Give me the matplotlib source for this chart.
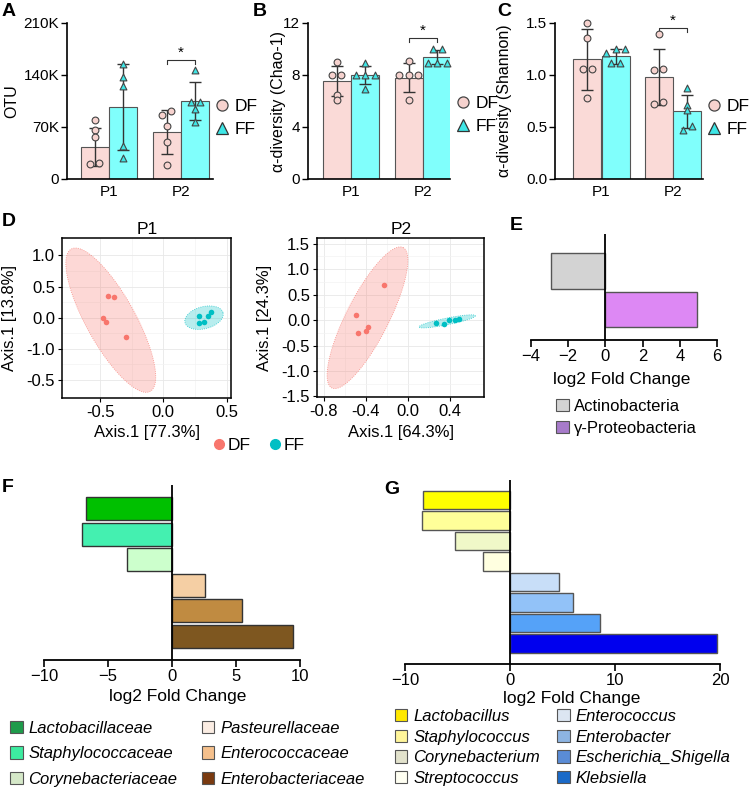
import numpy as np
import matplotlib
matplotlib.use('Agg')
import matplotlib.pyplot as plt
from matplotlib.patches import Patch, Polygon
from matplotlib.lines import Line2D

plt.rcParams['font.family'] = ['Liberation Sans', 'DejaVu Sans']

# ---------------- data ----------------
groups = ['P1', 'P2']

# A: OTU (thousands)
otu_df_pts = [[80, 66, 57, 21, 20], [91, 86, 71, 50, 19]]
otu_ff_pts = [[155, 137, 125, 44, 28], [147, 104, 104, 94, 77]]
otu_df_mean = [43, 63]
otu_df_sd = [25, 30]
otu_ff_mean = [97, 105]
otu_ff_sd = [58, 26]

# B: Chao-1
chao_df_pts = [[9.0, 8.0, 8.0, 6.5, 6.1], [9.05, 8.0, 8.0, 8.0, 6.1]]
chao_ff_pts = [[8.9, 8.0, 8.0, 8.0, 6.9], [10.0, 10.0, 8.9, 8.9, 8.9]]
chao_df_mean = [7.55, 7.8]
chao_df_sd = [1.15, 1.1]
chao_ff_mean = [8.0, 9.4]
chao_ff_sd = [0.68, 0.55]

# C: Shannon
shan_df_pts = [[1.50, 1.36, 1.06, 1.06, 0.78], [1.395, 1.05, 1.06, 0.72, 0.745]]
shan_ff_pts = [[1.25, 1.25, 1.21, 1.12, 1.12], [0.875, 0.714, 0.666, 0.51, 0.47]]
shan_df_mean = [1.15, 0.98]
shan_df_sd = [0.29, 0.27]
shan_ff_mean = [1.18, 0.65]
shan_ff_sd = [0.07, 0.16]

# D: PCoA
p1_df_x = [-0.434, -0.392, -0.474, -0.453, -0.295]
p1_df_y = [0.342, 0.332, 0.0, -0.064, -0.305]
p1_ff_x = [0.279, 0.284, 0.321, 0.355, 0.374]
p1_ff_y = [0.027, -0.080, -0.070, 0.027, 0.086]
p2_df_x = [-0.224, -0.495, -0.476, -0.394, -0.375]
p2_df_y = [0.68, 0.105, -0.25, -0.21, -0.14]
p2_ff_x = [0.271, 0.344, 0.388, 0.445, 0.486]
p2_ff_y = [-0.059, -0.085, -0.007, -0.007, 0.02]
# ellipses: centre, half-axis vector u, half-axis vector v
p1_df_ell = [(-0.415, -0.04), (-0.23, 1.136), (0.27, -0.23)]
p1_ff_ell = [(0.321, 0.0), (0.150, 0.080), (0.022, -0.171)]
p2_df_ell = [(-0.383, 0.045), (0.339, 1.377), (0.18, -0.19)]
p2_ff_ell = [(0.375, -0.026), (0.268, 0.111), (0.0063, -0.064)]

# E
e_taxa = ['Actinobacteria', 'γ-Proteobacteria']
e_fc = [-2.9, 4.95]

# F
f_taxa = ['Lactobacillaceae', 'Staphylococcaceae', 'Corynebacteriaceae',
          'Pasteurellaceae', 'Enterococcaceae', 'Enterobacteriaceae']
f_fc = [-6.7, -7.0, -3.5, 2.6, 5.5, 9.45]

# G
g_taxa = ['Lactobacillus', 'Staphylococcus', 'Corynebacterium', 'Streptococcus',
          'Enterococcus', 'Enterobacter', 'Escherichia_Shigella', 'Klebsiella']
g_fc = [-8.3, -8.4, -5.2, -2.6, 4.7, 6.0, 8.6, 19.7]

# colours
df_bar, ff_bar = '#FADAD7', '#80FFFC'
df_pt, ff_pt = '#F6D2CE', '#3EE6E6'
pc_df, pc_ff = '#F8766D', '#00BFC4'
e_bar_cols = ['#D3D3D3', '#DD88F4']
e_leg_cols = ['#D3D3D3', '#A77BCA']
f_bar_cols = ['#00C000', '#44F0B0', '#CCFFCC', '#F5CFA4', '#C08B41', '#7E5720']
f_leg_cols = ['#1E9B4B', '#3DEBA0', '#D5E8C8', '#FBEDE3', '#F5C08C', '#7A3A10']
g_bar_cols = ['#FFFF00', '#FFFF99', '#F0F8C8', '#FFFFE0', '#C8DEF8', '#92C2F8', '#55A2F8', '#0000EE']
g_leg_cols = ['#FFE800', '#FFF59A', '#E2E2CC', '#FFFFF2', '#DCE6F2', '#8DB4E2', '#5A8CD6', '#1A6AC8']

W, H = 750, 789
fig = plt.figure(figsize=(W / 100, H / 100), dpi=100)


def add_ax(box):
    l, t, r, b = box
    return fig.add_axes([l / W, 1 - b / H, (r - l) / W, (b - t) / H])


def ftext(x, y, s, **kw):
    fig.text(x / W, 1 - y / H, s, **kw)


def xlab(ax, box, text, px, py, **kw):
    l, t, r, b = box
    ax.set_xlabel(text, **kw)
    ax.xaxis.set_label_coords((px - l) / (r - l), (b - py) / (b - t))
    ax.xaxis.label.set_va('center')


def ylab(ax, box, text, px, py, **kw):
    l, t, r, b = box
    ax.set_ylabel(text, **kw)
    ax.yaxis.set_label_coords((px - l) / (r - l), (b - py) / (b - t))
    ax.yaxis.label.set_ha('center')
    ax.yaxis.label.set_va('center')


def spread(vals, tol, step):
    vals = np.asarray(vals, float)
    order = np.argsort(vals)
    offs = np.zeros(len(vals))
    clusters = [[order[0]]]
    for i in order[1:]:
        if vals[i] - vals[clusters[-1][-1]] <= tol:
            clusters[-1].append(i)
        else:
            clusters.append([i])
    for c in clusters:
        k = len(c)
        for j, idx in enumerate(c):
            offs[idx] = (j - (k - 1) / 2) * step
    return offs


def bar_panel(box, xlim, df_pts, ff_pts, df_m, df_s, ff_m, ff_s, ylim, yticks,
              yticklabels, ylabel, ylab_x, sig_y, sig_d, leg_xy):
    ax = add_ax(box)
    w, off = 0.39, 0.2
    span = ylim[1] - ylim[0]
    for gi in range(2):
        for pts, m, s, dx, bc, pc, mk in [
                (df_pts[gi], df_m[gi], df_s[gi], -off, df_bar, df_pt, 'o'),
                (ff_pts[gi], ff_m[gi], ff_s[gi], off, ff_bar, ff_pt, '^')]:
            x = gi + dx
            ax.bar(x, m, width=w, color=bc, edgecolor='#555555', lw=0.8, zorder=1)
            ax.errorbar(x, m, yerr=s, color='#333333', capsize=4.5, lw=1,
                        capthick=1, zorder=2)
            xo = spread(pts, 0.03 * span, 0.13)
            ax.scatter(x + xo, pts, marker=mk, s=24, facecolor=pc,
                       edgecolor='#444444', lw=0.8, zorder=3, clip_on=False)
    x1, x2 = 1 - off, 1 + off
    ax.plot([x1, x1, x2, x2], [sig_y - sig_d, sig_y, sig_y, sig_y - sig_d],
            color='#333333', lw=0.8)
    ax.text((x1 + x2) / 2, sig_y, '*', ha='center', va='bottom', fontsize=11)
    ax.set_xlim(xlim)
    ax.set_ylim(ylim)
    ax.set_yticks(yticks)
    ax.set_yticklabels(yticklabels)
    ax.set_xticks([0, 1])
    ax.set_xticklabels(groups)
    for sp in ['top', 'right']:
        ax.spines[sp].set_visible(False)
    for sp in ['left', 'bottom']:
        ax.spines[sp].set_linewidth(1.2)
    ax.tick_params(axis='y', length=4, width=1, labelsize=11, pad=1.5)
    ax.tick_params(axis='x', length=0, labelsize=11, pad=4)
    ylab(ax, box, ylabel, ylab_x, (box[1] + box[3]) / 2, fontsize=11.5)
    handles = [Line2D([], [], ls='', marker='o', ms=8, mfc=df_pt, mec='#444444', mew=0.9),
               Line2D([], [], ls='', marker='^', ms=8, mfc=ff_pt, mec='#333333', mew=0.9)]
    fig.legend(handles, ['DF', 'FF'], loc='upper left',
               bbox_to_anchor=(leg_xy[0] / W, 1 - leg_xy[1] / H), frameon=False,
               fontsize=12.5, handlelength=0.9, handletextpad=0.3, labelspacing=0.45,
               borderpad=0, borderaxespad=0)
    return ax


# ---------------- A ----------------
otu_ticks = [0, 70, 140, 210]
bar_panel((67, 23, 213, 179), (-0.583, 1.444), otu_df_pts, otu_ff_pts,
          otu_df_mean, otu_df_sd, otu_ff_mean, otu_ff_sd, (0, 210), otu_ticks,
          ['0', '70K', '140K', '210K'], 'OTU', 12, 160, 5, (214, 99))

# ---------------- B ----------------
bar_panel((308, 23, 450, 179), (-0.597, 1.375), chao_df_pts, chao_ff_pts,
          chao_df_mean, chao_df_sd, chao_ff_mean, chao_ff_sd, (0, 12), [0, 4, 8, 12],
          ['0', '4', '8', '12'], 'α-diversity (Chao-1)', 278, 10.85, 0.3, (455, 96))

# ---------------- C ----------------
bar_panel((555, 23, 703, 179), (-0.65, 1.42), shan_df_pts, shan_ff_pts,
          shan_df_mean, shan_df_sd, shan_ff_mean, shan_ff_sd, (0, 1.5),
          [0, 0.5, 1.0, 1.5], ['0.0', '0.5', '1.0', '1.5'],
          'α-diversity (Shannon)', 505, 1.45, 0.04, (706, 99))


# ---------------- D ----------------
def ellipse_pts(ell, n=200):
    (cx, cy), u, v = ell
    t = np.linspace(0, 2 * np.pi, n)
    return np.column_stack([cx + u[0] * np.cos(t) + v[0] * np.sin(t),
                            cy + u[1] * np.cos(t) + v[1] * np.sin(t)])


def pcoa_panel(box, xlim, ylim, xticks, xticklabels, yticks, yticklabels,
               df_xy, ff_xy, df_ell, ff_ell, title, xlabel, ylabel, ylab_x):
    ax = add_ax(box)
    for ell, col in [(df_ell, pc_df), (ff_ell, pc_ff)]:
        ax.add_patch(Polygon(ellipse_pts(ell), closed=True, facecolor=col, alpha=0.28,
                             edgecolor='none', zorder=1))
        ax.add_patch(Polygon(ellipse_pts(ell), closed=True, facecolor='none',
                             edgecolor=col, lw=0.6, ls=':', alpha=0.8, zorder=1))
    ax.scatter(df_xy[0], df_xy[1], s=16, color=pc_df, zorder=3, lw=0)
    ax.scatter(ff_xy[0], ff_xy[1], s=16, color=pc_ff, zorder=3, lw=0)
    ax.set_xlim(xlim)
    ax.set_ylim(ylim)
    ax.set_xticks(xticks)
    ax.set_xticklabels(xticklabels)
    ax.set_yticks(yticks)
    ax.set_yticklabels(yticklabels)
    ax.set_xticks([(a + b) / 2 for a, b in zip(xticks[:-1], xticks[1:])], minor=True)
    ax.set_yticks([(a + b) / 2 for a, b in zip(yticks[:-1], yticks[1:])], minor=True)
    ax.grid(True, which='major', color='#E8E8E8', lw=0.6)
    ax.grid(True, which='minor', color='#F3F3F3', lw=0.5)
    ax.tick_params(which='minor', length=0)
    ax.tick_params(which='major', length=3, width=0.8, labelsize=12, pad=2)
    ax.set_axisbelow(True)
    for sp in ax.spines.values():
        sp.set_linewidth(1.1)
    l, t, r, b = box
    ftext((l + r) / 2 + 1, 229, title, ha='center', va='center', fontsize=12.5)
    xlab(ax, box, xlabel, (l + r) / 2, 433, fontsize=12)
    ylab(ax, box, ylabel, ylab_x, (t + b) / 2, fontsize=12)
    return ax


pcoa_panel((62, 238, 231, 398), (-0.80, 0.534), (-1.29, 1.28),
           [-0.5, 0.0, 0.5], ['-0.5', '0.0', '0.5'],
           [-1.0, -0.5, 0.0, 0.5, 1.0], ['-0.5', '-1.0', '0.0', '0.5', '1.0'],
           (p1_df_x, p1_df_y), (p1_ff_x, p1_ff_y), p1_df_ell, p1_ff_ell,
           'P1', 'Axis.1 [77.3%]', 'Axis.1 [13.8%]', 10)
pcoa_panel((317, 238, 484, 397), (-0.863, 0.725), (-1.51, 1.61),
           [-0.8, -0.4, 0.0, 0.4], ['-0.8', '-0.4', '0.0', '0.4'],
           [-1.5, -1.0, -0.5, 0.0, 0.5, 1.0, 1.5],
           ['-1.5', '-1.0', '-0.5', '0.0', '0.5', '1.0', '1.5'],
           (p2_df_x, p2_df_y), (p2_ff_x, p2_ff_y), p2_df_ell, p2_ff_ell,
           'P2', 'Axis.1 [64.3%]', 'Axis.1 [24.3%]', 265)

d_handles = [Line2D([], [], ls='', marker='o', ms=7, color=pc_df),
             Line2D([], [], ls='', marker='o', ms=7, color=pc_ff)]
fig.legend(d_handles, ['DF', 'FF'], loc='center left', ncol=2,
           bbox_to_anchor=(214 / W, 1 - 445 / H), frameon=False, fontsize=12.5,
           handlelength=0.6, handletextpad=0.2, columnspacing=1.1, borderpad=0,
           borderaxespad=0)


# ---------------- E, F, G ----------------
def fc_panel(box, vals, bar_cols, xlim, xticks, ylim, height, edge, lab_xy):
    ax = add_ax(box)
    ypos = np.arange(len(vals))
    ax.barh(ypos, vals, height=height, color=bar_cols, edgecolor=edge, lw=1.0, zorder=2)
    ax.axvline(0, color='black', lw=1.3, zorder=3)
    ax.set_xlim(xlim)
    ax.set_ylim(ylim)
    ax.set_xticks(xticks)
    ax.set_yticks([])
    for sp in ['top', 'right', 'left']:
        ax.spines[sp].set_visible(False)
    ax.spines['bottom'].set_linewidth(1.3)
    ax.tick_params(axis='x', length=5, width=1.2, labelsize=12, pad=1.5)
    xlab(ax, box, 'log2 Fold Change', lab_xy[0], lab_xy[1], fontsize=12.5)
    return ax


def patch_legend(labels, cols, x, y, italic, fs, spacing):
    hs = [Patch(facecolor=c, edgecolor='#555555', lw=0.8) for c in cols]
    prop = {'size': fs, 'style': 'italic' if italic else 'normal'}
    fig.legend(hs, labels, loc='upper left', bbox_to_anchor=(x / W, 1 - y / H),
               frameon=False, prop=prop, handlelength=0.75, handleheight=0.75,
               handletextpad=0.35, labelspacing=spacing, borderpad=0, borderaxespad=0)


fc_panel((531, 234, 717, 340), e_fc, e_bar_cols, (-4, 6), [-4, -2, 0, 2, 4, 6],
         (1.79, -0.96), 0.93, '#555555', (622, 379))
patch_legend(e_taxa, e_leg_cols, 556, 399, False, 12, 0.4)

fc_panel((44, 485, 300, 660), f_fc, f_bar_cols, (-10, 10), [-10, -5, 0, 5, 10],
         (5.92, -0.92), 0.9, '#333333', (178, 697))
patch_legend(f_taxa[:3], f_leg_cols[:3], 10, 721, True, 12, 0.62)
patch_legend(f_taxa[3:], f_leg_cols[3:], 202, 721, True, 12, 0.62)

fc_panel((405, 480, 720, 664), g_fc, g_bar_cols, (-10, 20), [-10, 0, 10, 20],
         (8.0, -0.98), 0.9, '#555555', (572, 699))
patch_legend(g_taxa[:4], g_leg_cols[:4], 395, 709, True, 12, 0.34)
patch_legend(g_taxa[4:], g_leg_cols[4:], 557, 709, True, 12, 0.34)

# panel letters
for s, x, y in [('A', 2, 12), ('B', 253, 12), ('C', 497, 12), ('D', 2, 221),
                ('E', 510, 226), ('F', 2, 487), ('G', 384, 490)]:
    ftext(x, y, s, ha='left', va='center', fontsize=14, fontweight='bold')

fig.savefig('out.png', dpi=100)
